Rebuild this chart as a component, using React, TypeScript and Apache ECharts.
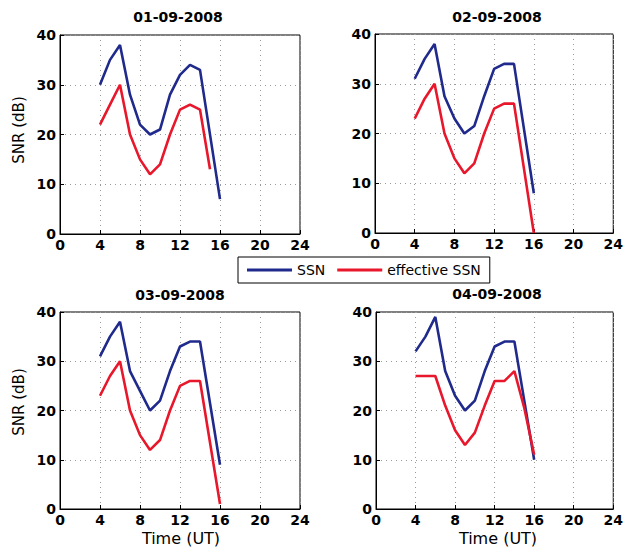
import React, { useEffect, useRef } from "react";
import * as echarts from "echarts";

const titles = ["01-09-2008", "02-09-2008", "03-09-2008", "04-09-2008"];
const xTicks = [0, 4, 8, 12, 16, 20, 24];
const yTicks = [0, 10, 20, 30, 40];

const p1SsnHours = [4, 5, 6, 7, 8, 9, 10, 11, 12, 13, 14, 16];
const p1Ssn = [30, 35, 38, 28, 22, 20, 21, 28, 32, 34, 33, 7];
const p1EffHours = [4, 5, 6, 7, 8, 9, 10, 11, 12, 13, 14, 15];
const p1Eff = [22, 26, 30, 20, 15, 12, 14, 20, 25, 26, 25, 13];

const p2SsnHours = [4, 5, 6, 7, 8, 9, 10, 11, 12, 13, 14, 16];
const p2Ssn = [31, 35, 38, 27.5, 23, 20, 21.5, 27.5, 33, 34, 34, 8];
const p2EffHours = [4, 5, 6, 7, 8, 9, 10, 11, 12, 13, 14, 16];
const p2Eff = [23, 27, 30, 20, 15, 12, 14, 20, 25, 26, 26, 0];

const p3SsnHours = [4, 5, 6, 7, 8, 9, 10, 11, 12, 13, 14, 16];
const p3Ssn = [31, 35, 38, 28, 24, 20, 22, 28, 33, 34, 34, 9];
const p3EffHours = [4, 5, 6, 7, 8, 9, 10, 11, 12, 13, 14, 16];
const p3Eff = [23, 27, 30, 20, 15, 12, 14, 20, 25, 26, 26, 1];

const p4SsnHours = [4, 5, 6, 7, 8, 9, 10, 11, 12, 13, 14, 15, 16];
const p4Ssn = [32, 35, 39, 28, 23, 20, 22, 28, 33, 34, 34, 22, 10];
const p4EffHours = [4, 5, 6, 7, 8, 9, 10, 11, 12, 13, 14, 15, 16];
const p4Eff = [27, 27, 27, 21, 16, 13, 15.5, 21, 26, 26, 28, 20.5, 11];

const ssnHours = [p1SsnHours, p2SsnHours, p3SsnHours, p4SsnHours];
const ssnVals = [p1Ssn, p2Ssn, p3Ssn, p4Ssn];
const effHours = [p1EffHours, p2EffHours, p3EffHours, p4EffHours];
const effVals = [p1Eff, p2Eff, p3Eff, p4Eff];

const BLUE = "#1f2a8c";
const RED = "#e8172b";
const FONT = '"DejaVu Sans", Arial, sans-serif';

const grids = [
  { left: 60, top: 35, width: 240, height: 199 },
  { left: 375, top: 34, width: 245, height: 199 },
  { left: 60, top: 312, width: 240, height: 197 },
  { left: 376, top: 312, width: 244, height: 197 },
];

export default function App() {
  const ref = useRef<HTMLDivElement>(null);
  useEffect(() => {
    if (!ref.current) return;
    const chart = echarts.init(ref.current, undefined, { renderer: "svg" });
    const pair = (xs: number[], ys: number[]) => xs.map((x, i) => [x, ys[i]]);
    const series: any[] = [];
    for (let i = 0; i < 4; i++) {
      series.push({
        name: "SSN",
        type: "line",
        xAxisIndex: i,
        yAxisIndex: i,
        data: pair(ssnHours[i], ssnVals[i]),
        showSymbol: false,
        color: BLUE,
        lineStyle: { color: BLUE, width: 2.6 },
        z: 3,
      });
      series.push({
        name: "effective SSN",
        type: "line",
        xAxisIndex: i,
        yAxisIndex: i,
        data: pair(effHours[i], effVals[i]),
        showSymbol: false,
        color: RED,
        lineStyle: { color: RED, width: 2.6 },
        z: 4,
      });
    }
    const xAxis = grids.map((_, i) => ({
      type: "value",
      gridIndex: i,
      min: xTicks[0],
      max: xTicks[xTicks.length - 1],
      interval: 4,
      axisLine: { show: true, lineStyle: { color: "#000", width: 1 } },
      axisTick: { show: true, inside: true, length: 4, lineStyle: { color: "#000" } },
      axisLabel: { color: "#000", fontFamily: FONT, fontWeight: "bold", fontSize: 14, margin: 4 },
      splitLine: { show: true, lineStyle: { color: "#9a9a9a", type: [1, 4], width: 1 } },
    }));
    const yAxis = grids.map((_, i) => ({
      type: "value",
      gridIndex: i,
      min: yTicks[0],
      max: yTicks[yTicks.length - 1],
      interval: 10,
      axisLine: { show: true, lineStyle: { color: "#000", width: 1 } },
      axisTick: { show: true, inside: true, length: 4, lineStyle: { color: "#000" } },
      axisLabel: { color: "#000", fontFamily: FONT, fontWeight: "bold", fontSize: 14, margin: 4 },
      splitLine: { show: true, lineStyle: { color: "#9a9a9a", type: [1, 4], width: 1 } },
    }));
    const txt = (text: string, x: number, y: number, bold: boolean, size: number, rot = 0) => ({
      type: "text",
      x,
      y,
      rotation: rot,
      z: 20,
      style: {
        text,
        fill: "#000",
        fontFamily: FONT,
        fontWeight: bold ? "bold" : "normal",
        fontSize: size,
        align: "center",
        verticalAlign: "middle",
      },
    });
    const graphic = [
      txt(titles[0], 178, 17, true, 14),
      txt(titles[1], 497, 17, true, 14),
      txt(titles[2], 180, 295, true, 14),
      txt(titles[3], 497, 294, true, 14),
      txt("SNR (dB)", 19, 130, false, 15, Math.PI / 2),
      txt("SNR (dB)", 19, 402, false, 15, Math.PI / 2),
      txt("Time (UT)", 181, 538, false, 16),
      txt("Time (UT)", 498, 538, false, 16),
    ];
    chart.setOption({
      animation: false,
      backgroundColor: "#fff",
      grid: grids.map((g) => ({ ...g, show: true, borderColor: "#000", borderWidth: 1, backgroundColor: "transparent" })),
      xAxis,
      yAxis,
      series,
      legend: {
        data: ["SSN", "effective SSN"],
        left: 238,
        top: 257,
        padding: [6, 9],
        itemWidth: 45,
        itemHeight: 3,
        itemGap: 12,
        icon: "rect",
        borderColor: "#000",
        borderWidth: 1,
        backgroundColor: "#fff",
        z: 10,
        textStyle: { color: "#000", fontFamily: FONT, fontSize: 14 },
      },
      graphic,
    });
    return () => chart.dispose();
  }, []);
  return (
    <div
      ref={ref}
      style={{ position: "fixed", left: 0, top: 0, width: 626, height: 553, background: "#fff" }}
    />
  );
}
